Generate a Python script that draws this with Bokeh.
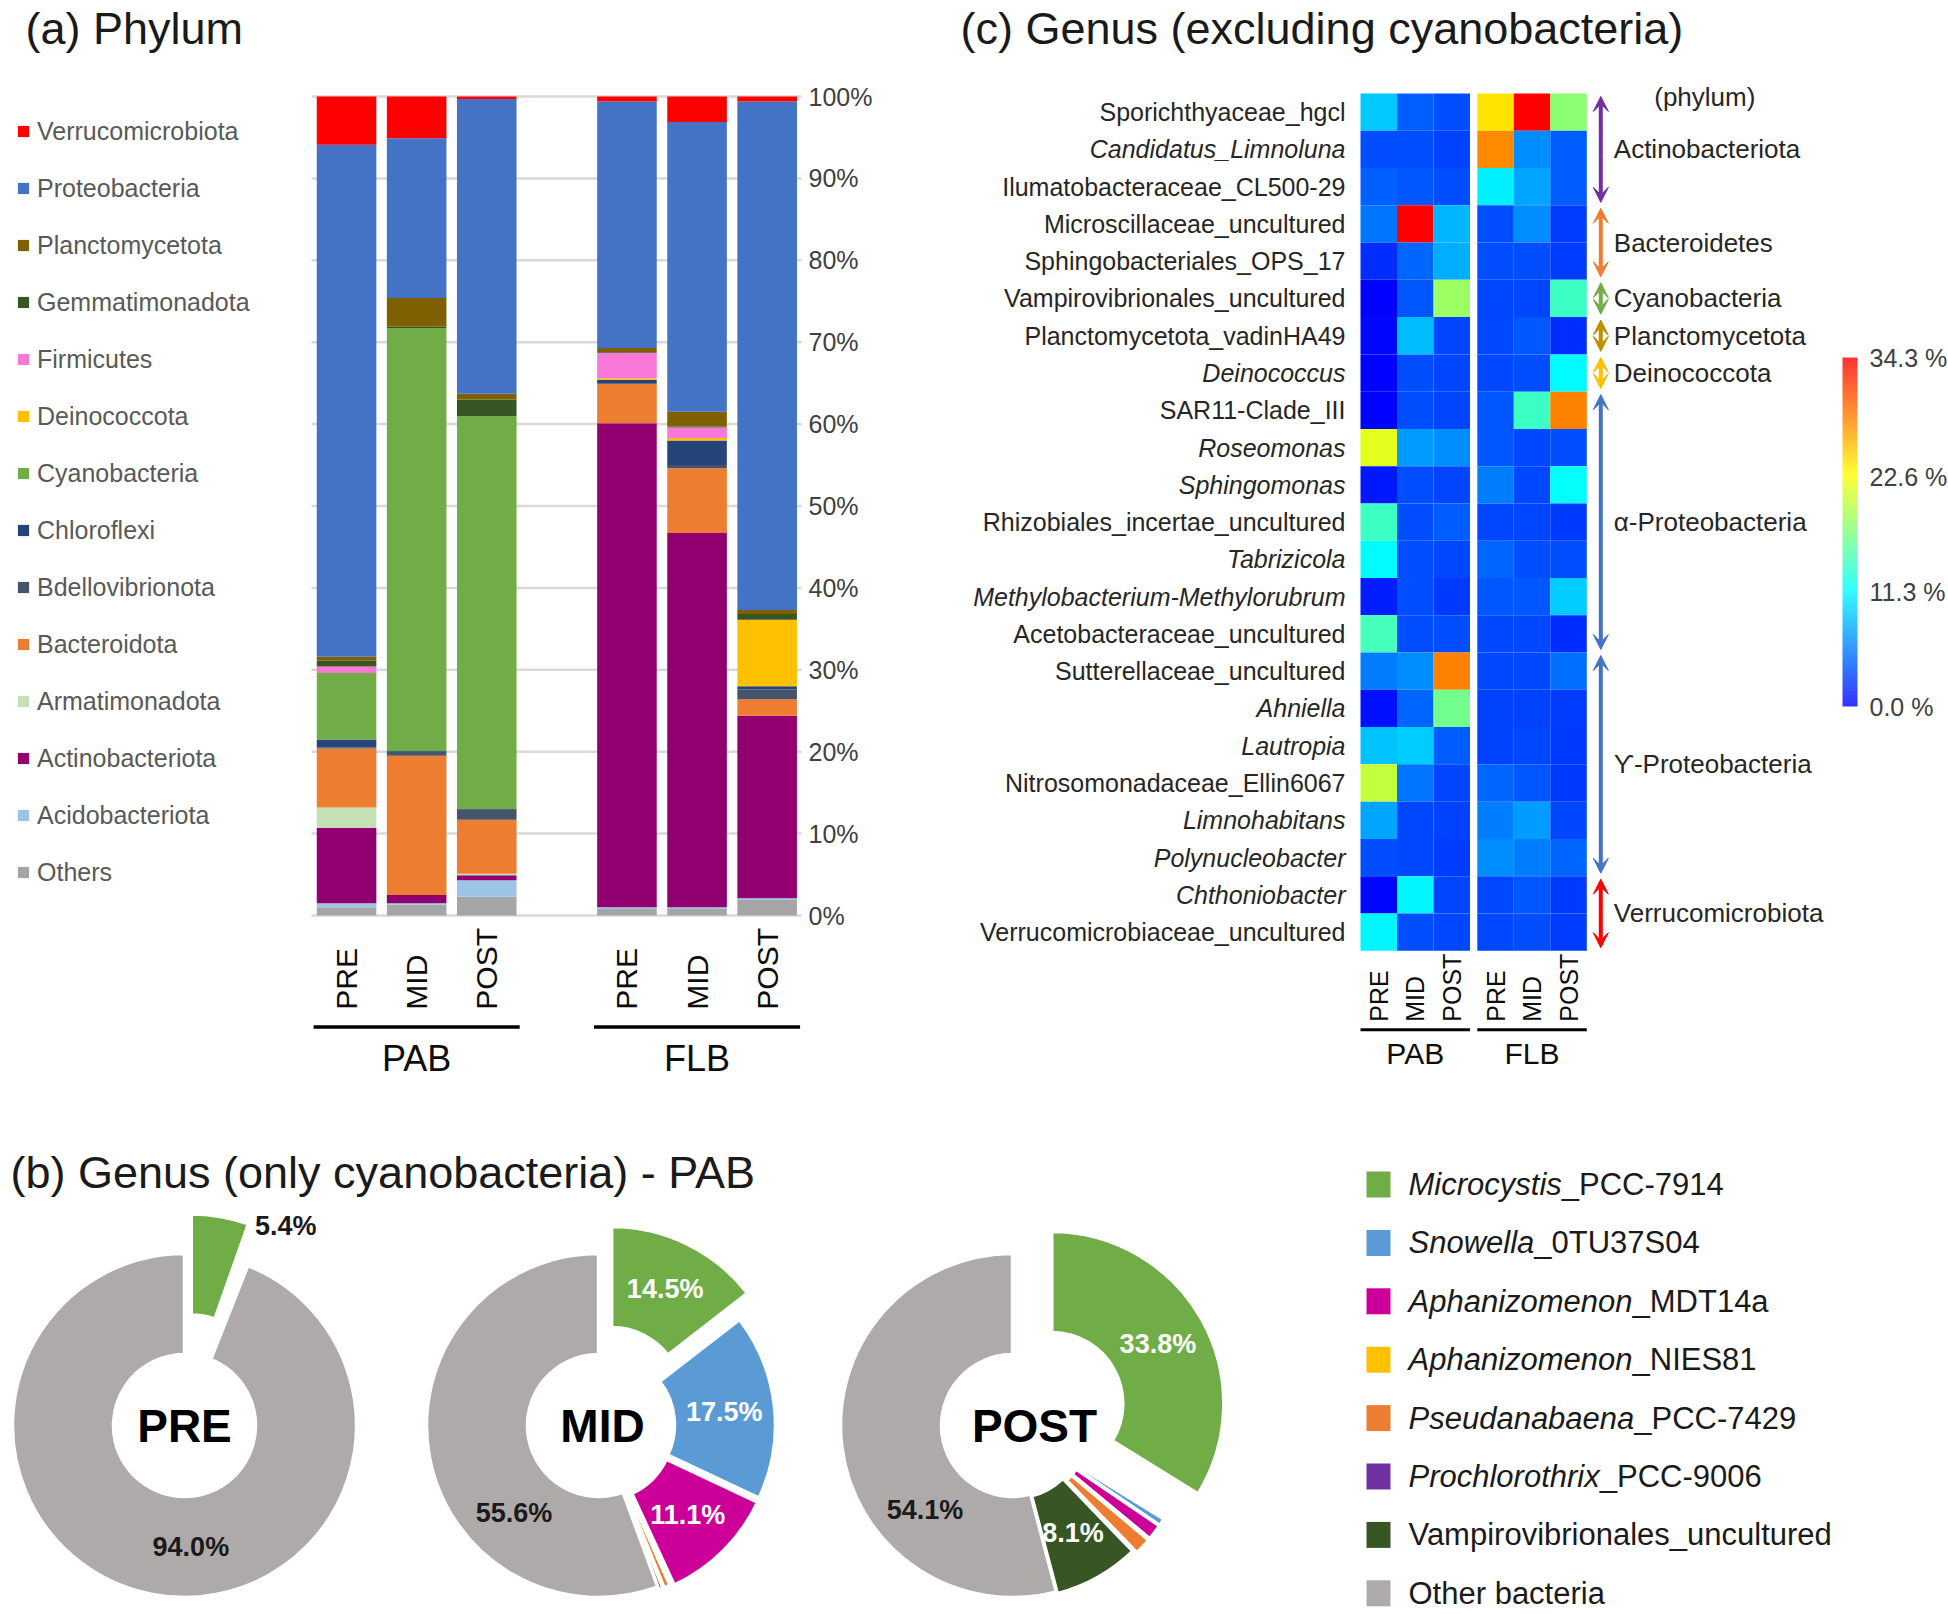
import numpy as np
from math import pi
from bokeh.plotting import figure
from bokeh.models import (ColumnDataSource, Range1d, FixedTicker, Legend, LegendItem,
                          LinearColorMapper, ColorBar, Arrow, VeeHead, Label)
from bokeh.layouts import row, column
from bokeh.core.properties import value
from bokeh.embed import file_html
from bokeh.resources import INLINE

FONT = "Liberation Sans"

# ------------------------------------------------------------------ data (a)
bar_samples = ["PRE", "MID", "POST"]
bar_groups = ["PAB", "FLB"]
# order of bars: PAB PRE, PAB MID, PAB POST, FLB PRE, FLB MID, FLB POST
others            = [1.0, 1.3, 2.3, 0.8, 0.8, 1.9]
acidobacteriota   = [0.5, 0.2, 2.0, 0.2, 0.2, 0.2]
actinobacteriota  = [9.2, 1.0, 0.6, 59.1, 45.7, 22.3]
armatimonadota    = [2.5, 0.0, 0.2, 0.0, 0.0, 0.0]
bacteroidota      = [7.2, 17.0, 6.6, 4.8, 7.9, 2.0]
bdellovibrionota  = [0.1, 0.5, 1.2, 0.1, 0.4, 1.2]
chloroflexi       = [1.0, 0.1, 0.1, 0.4, 3.0, 0.4]
cyanobacteria     = [8.1, 51.6, 48.0, 0.0, 0.0, 0.0]
deinococcota      = [0.0, 0.0, 0.0, 0.2, 0.3, 8.1]
firmicutes        = [0.8, 0.0, 0.0, 3.1, 1.3, 0.0]
gemmatimonadota   = [0.7, 0.2, 2.0, 0.1, 0.1, 0.7]
planctomycetota   = [0.5, 3.5, 0.7, 0.5, 1.8, 0.5]
proteobacteria    = [62.5, 19.5, 36.0, 30.1, 35.4, 62.1]
verrucomicrobiota = [5.9, 5.1, 0.3, 0.6, 3.1, 0.6]

phylum_names = ["Others", "Acidobacteriota", "Actinobacteriota", "Armatimonadota",
                "Bacteroidota", "Bdellovibrionota", "Chloroflexi", "Cyanobacteria",
                "Deinococcota", "Firmicutes", "Gemmatimonadota", "Planctomycetota",
                "Proteobacteria", "Verrucomicrobiota"]
phylum_values = [others, acidobacteriota, actinobacteriota, armatimonadota, bacteroidota,
                 bdellovibrionota, chloroflexi, cyanobacteria, deinococcota, firmicutes,
                 gemmatimonadota, planctomycetota, proteobacteria, verrucomicrobiota]
phylum_colors = ["#A5A5A5", "#9DC3E6", "#920070", "#C5E0B4", "#ED7D31", "#44546A",
                 "#264478", "#70AD47", "#FFC000", "#F878D8", "#375623", "#7F6000",
                 "#4472C4", "#FF0000"]
pct_ticks = [0, 10, 20, 30, 40, 50, 60, 70, 80, 90, 100]
pct_tick_labels = ["0%", "10%", "20%", "30%", "40%", "50%", "60%", "70%", "80%", "90%", "100%"]

# ------------------------------------------------------------------ data (b)
pie_samples = ["PRE", "MID", "POST"]
genus_italic = ["Microcystis", "Snowella", "Aphanizomenon", "Aphanizomenon",
                "Pseudanabaena", "Prochlorothrix", "", ""]
genus_rest = ["_PCC-7914", "_0TU37S04", "_MDT14a", "_NIES81", "_PCC-7429", "_PCC-9006",
              "Vampirovibrionales_uncultured", "Other bacteria"]
genus_colors = ["#70AD47", "#5B9BD5", "#CC0099", "#FFC000", "#ED7D31", "#7030A0",
                "#375623", "#AEAAAA"]
pie_pre  = [5.4, 0.2, 0.1, 0.0, 0.2, 0.0, 0.1, 94.0]
pie_mid  = [14.5, 17.5, 11.1, 0.2, 0.6, 0.1, 0.4, 55.6]
pie_post = [33.8, 0.7, 1.5, 0.1, 1.6, 0.1, 8.1, 54.1]

# ------------------------------------------------------------------ data (c)
hm_genera = ["Sporichthyaceae_hgcl", "Candidatus_Limnoluna", "Ilumatobacteraceae_CL500-29",
             "Microscillaceae_uncultured", "Sphingobacteriales_OPS_17",
             "Vampirovibrionales_uncultured", "Planctomycetota_vadinHA49", "Deinococcus",
             "SAR11-Clade_III", "Roseomonas", "Sphingomonas", "Rhizobiales_incertae_uncultured",
             "Tabrizicola", "Methylobacterium-Methylorubrum", "Acetobacteraceae_uncultured",
             "Sutterellaceae_uncultured", "Ahniella", "Lautropia", "Nitrosomonadaceae_Ellin6067",
             "Limnohabitans", "Polynucleobacter", "Chthoniobacter",
             "Verrucomicrobiaceae_uncultured"]
hm_italic = [False, True, False, False, False, False, False, True, False, True, True, False,
             True, True, False, False, True, True, False, True, True, True, False]
hm_pab_pre  = [9.0, 3.5, 4.4, 5.3, 2.1, 0.2, 0.4, 0.2, 0.2, 21.6, 1.1, 14.1, 11.3, 1.4, 14.6,
               5.7, 0.7, 8.8, 20.2, 7.4, 3.5, 0.4, 11.0]
hm_pab_mid  = [4.4, 3.5, 3.9, 34.3, 4.6, 3.9, 8.5, 3.5, 3.5, 7.1, 3.5, 3.5, 3.5, 3.5, 3.5,
               6.4, 4.6, 9.2, 5.3, 3.2, 3.3, 11.0, 3.5]
hm_pab_post = [3.5, 3.0, 3.5, 8.2, 7.8, 18.4, 3.2, 3.2, 3.2, 6.4, 3.2, 4.2, 3.3, 2.6, 3.5,
               28.5, 16.5, 4.2, 3.2, 3.0, 2.8, 3.2, 3.3]
hm_flb_pre  = [24.0, 28.1, 10.8, 3.5, 3.5, 3.2, 3.3, 3.3, 3.9, 3.9, 5.7, 3.2, 4.6, 3.9, 3.3,
               3.3, 3.0, 3.0, 4.6, 5.7, 6.4, 3.3, 3.3]
hm_flb_mid  = [34.3, 6.4, 7.4, 6.4, 3.5, 3.2, 3.9, 3.5, 14.1, 3.3, 3.3, 3.2, 3.5, 3.9, 3.3,
               3.3, 3.0, 3.3, 3.9, 7.1, 5.7, 3.9, 3.5]
hm_flb_post = [17.7, 4.2, 4.2, 2.8, 2.8, 14.1, 2.1, 11.3, 28.5, 3.5, 11.6, 2.6, 3.5, 9.2, 2.1,
               5.0, 2.8, 2.6, 2.6, 3.2, 4.6, 2.6, 2.8]
hm_phyla = ["Actinobacteriota", "Bacteroidetes", "Cyanobacteria", "Planctomycetota",
            "Deinococcota", "\u03b1-Proteobacteria", "\u03d2-Proteobacteria", "Verrucomicrobiota"]
hm_phyla_first = [0, 3, 5, 6, 7, 8, 15, 21]
hm_phyla_last  = [2, 4, 5, 6, 7, 14, 20, 22]
hm_phyla_colors = ["#7030A0", "#ED7D31", "#70AD47", "#BF8F00", "#FFC000", "#4472C4",
                   "#4472C4", "#FF0000"]
cb_ticks = [0.0, 11.3, 22.6, 34.3]
cb_tick_labels = ["0.0 %", "11.3 %", "22.6 %", "34.3 %"]

# ------------------------------------------------------------------ helpers
ARIAL = {c: w for c, w in zip("abcdefghijklmnopqrstuvwxyz",
         [556, 556, 500, 556, 556, 278, 556, 556, 222, 222, 500, 222, 833, 556, 556, 556, 556,
          333, 500, 278, 556, 500, 722, 500, 500, 500])}
ARIAL.update({c: w for c, w in zip("ABCDEFGHIJKLMNOPQRSTUVWXYZ",
              [667, 667, 722, 722, 667, 611, 778, 722, 278, 500, 667, 556, 833, 722, 778, 667,
               778, 722, 667, 611, 722, 667, 944, 667, 667, 611])})
ARIAL.update({" ": 278, "_": 556, "-": 333, ".": 278, "%": 889, "(": 333, ")": 333})


def text_width(s, size):
    return sum(ARIAL.get(ch, 556) for ch in s) / 1000.0 * size


def jet_palette(n=256):
    stops = [(0.0, (0, 0, 255)), (1 / 3, (0, 255, 255)), (2 / 3, (255, 255, 0)), (1.0, (255, 0, 0))]
    out = []
    for t in np.linspace(0, 1, n):
        for (t0, c0), (t1, c1) in zip(stops[:-1], stops[1:]):
            if t <= t1 + 1e-9:
                f = (t - t0) / (t1 - t0)
                rgb = [int(round(a + (b - a) * f)) for a, b in zip(c0, c1)]
                out.append("#%02x%02x%02x" % tuple(rgb))
                break
    return out


def base_fig(w, h, xr, yr, **kw):
    p = figure(width=w, height=h, output_backend="svg", toolbar_location=None,
               x_range=Range1d(*xr), y_range=Range1d(*yr), **kw)
    p.grid.visible = False
    p.outline_line_color = None
    p.background_fill_color = "white"
    p.border_fill_color = "white"
    return p


PAGE_W, PAGE_H = 1948, 1614
SPLIT = 1110          # page y where the top row of panels ends
TITLE_FS = "45px"
TITLE_Y = 28          # title label position below the top edge of the page

# ================================================================== (a) bars
A_W, A_H, A_RIGHT = 944, SPLIT, 143
A_PXU_X = 70.1          # px per bar slot
A_PXU_Y = 8.19          # px per percent
A_FRAME_W = A_W - A_RIGHT
a_bar_left_px = 311     # frame px where first slot starts
a_zero_px = 915         # frame px (from top) of 0 %
a_x0 = -0.5 - a_bar_left_px / A_PXU_X
a_y1 = 100 + (a_zero_px - 100 * A_PXU_Y) / A_PXU_Y
a_y0 = a_y1 - A_H / A_PXU_Y
GROUP_STEP = 4
bar_x = [g * GROUP_STEP + s for g in range(len(bar_groups)) for s in range(len(bar_samples))]

pa = base_fig(A_W, A_H, (a_x0, a_x0 + A_FRAME_W / A_PXU_X), (a_y0, a_y1),
              x_axis_location=None, y_axis_location="right",
              min_border_left=0, min_border_top=0, min_border_bottom=0,
              min_border_right=A_RIGHT)

gx0, gx1 = min(bar_x) - 0.5, max(bar_x) + 0.5
pa.segment(x0=[gx0] * len(pct_ticks), x1=[gx1] * len(pct_ticks), y0=pct_ticks, y1=pct_ticks,
           line_color="#D9D9D9", line_width=2.5)

src_a = ColumnDataSource(dict(x=bar_x, **{n: v for n, v in zip(phylum_names, phylum_values)}))
rends = pa.vbar_stack(phylum_names, x="x", width=0.85, fill_color=phylum_colors,
                      line_color=None, source=src_a)

legend_a = Legend(items=[LegendItem(label=n, renderers=[r])
                         for n, r in reversed(list(zip(phylum_names, rends)))],
                  location=(16, A_H - 887), orientation="vertical",
                  glyph_width=14, glyph_height=14, label_standoff=7, label_height=30,
                  spacing=27, padding=0, margin=0, border_line_color=None,
                  background_fill_alpha=0, label_text_font=FONT,
                  label_text_font_size="25px", label_text_color="#595959")
pa.add_layout(legend_a)

ya = pa.yaxis[0]
ya.ticker = FixedTicker(ticks=pct_ticks)
ya.major_label_overrides = {t: l for t, l in zip(pct_ticks, pct_tick_labels)}
ya.axis_line_color = None
ya.major_tick_line_color = None
ya.minor_tick_line_color = None
ya.major_tick_out = 0
ya.minor_tick_out = 0
ya.major_label_standoff = 7
ya.major_label_text_font = FONT
ya.major_label_text_font_size = "25px"
ya.major_label_text_color = "#404040"

pa.text(x=bar_x, y=[-11.5] * len(bar_x), text=bar_samples * len(bar_groups), angle=pi / 2,
        text_align="left", text_baseline="middle", text_font=value(FONT),
        text_font_size="30px", text_color="#0d0d0d")
grp_c = [float(np.mean(bar_x[g * 3:(g + 1) * 3])) for g in range(len(bar_groups))]
pa.segment(x0=[c - 1.47 for c in grp_c], x1=[c + 1.47 for c in grp_c], y0=[-13.6] * 2,
           y1=[-13.6] * 2, line_color="black", line_width=3.5)
pa.text(x=grp_c, y=[-17.5] * 2, text=bar_groups, text_align="center", text_baseline="middle",
        text_font=value(FONT), text_font_size="36px", text_color="#0d0d0d")
pa.add_layout(Label(x=25, y=A_H - TITLE_Y, x_units="screen", y_units="screen",
                    text="(a) Phylum", text_font=FONT, text_font_size=TITLE_FS,
                    text_color="#1a1a1a", text_baseline="alphabetic"))

# ================================================================== (c) heatmap
C_W, C_H = PAGE_W - A_W, SPLIT
C_PXU_X, C_PXU_Y = 36.5, 37.27
c_left_px = 416       # frame px of heatmap left edge
c_top_px = 93         # frame px of heatmap top edge
n_rows = len(hm_genera)
c_x0 = -0.5 - c_left_px / C_PXU_X
c_y1 = (n_rows - 0.5) + c_top_px / C_PXU_Y
c_y0 = c_y1 - C_H / C_PXU_Y
pc = base_fig(C_W, C_H, (c_x0, c_x0 + C_W / C_PXU_X), (c_y0, c_y1),
              x_axis_location=None, y_axis_location=None, min_border=0)

HM_GAP = 0.2
hm_cols = [hm_pab_pre, hm_pab_mid, hm_pab_post, hm_flb_pre, hm_flb_mid, hm_flb_post]
col_x = [g * (3 + HM_GAP) + s for g in range(2) for s in range(3)]
row_y = [n_rows - 1 - i for i in range(n_rows)]
hx, hy, hv = [], [], []
for cx_, col in zip(col_x, hm_cols):
    for ry, v in zip(row_y, col):
        hx.append(cx_)
        hy.append(ry)
        hv.append(v)
mapper = LinearColorMapper(palette=jet_palette(256), low=cb_ticks[0], high=cb_ticks[-1])
pc.rect(x="x", y="y", width=1.0, height=1.0, fill_color={"field": "v", "transform": mapper},
        line_color=None, source=ColumnDataSource(dict(x=hx, y=hy, v=hv)))

pc.text(x="x", y="y", text="t", text_font_style="fs", x_offset=-15, text_align="right",
        text_baseline="middle", text_font=value(FONT), text_font_size="25px",
        text_color="#262626",
        source=ColumnDataSource(dict(x=[-0.5] * n_rows, y=row_y, t=hm_genera,
                                     fs=["italic" if it else "normal" for it in hm_italic])))

lab_y_bottom = -0.5 - 71 / C_PXU_Y
pc.text(x=col_x, y=[lab_y_bottom] * 6, text=bar_samples * 2, angle=pi / 2, text_align="left",
        text_baseline="middle", text_font=value(FONT), text_font_size="25px",
        text_color="#0d0d0d")
gl_y = -0.5 - 79 / C_PXU_Y
hm_gc = [float(np.mean(col_x[g * 3:(g + 1) * 3])) for g in range(2)]
pc.segment(x0=[c - 1.5 for c in hm_gc], x1=[c + 1.5 for c in hm_gc], y0=[gl_y] * 2,
           y1=[gl_y] * 2, line_color="black", line_width=3)
pc.text(x=hm_gc, y=[-0.5 - 103 / C_PXU_Y] * 2, text=bar_groups, text_align="center",
        text_baseline="middle", text_font=value(FONT), text_font_size="30px",
        text_color="#0d0d0d")

arrow_x = max(col_x) + 0.5 + 14 / C_PXU_X
for name, f, l, c in zip(hm_phyla, hm_phyla_first, hm_phyla_last, hm_phyla_colors):
    y_top = row_y[f] + 0.42
    y_bot = row_y[l] - 0.42
    pc.add_layout(Arrow(start=VeeHead(size=15, fill_color=c, line_color=c),
                        end=VeeHead(size=15, fill_color=c, line_color=c),
                        x_start=arrow_x, y_start=y_bot, x_end=arrow_x, y_end=y_top,
                        line_color=c, line_width=4))
pc.text(x=[arrow_x] * len(hm_phyla),
        y=[(row_y[f] + row_y[l]) / 2 for f, l in zip(hm_phyla_first, hm_phyla_last)],
        text=hm_phyla, x_offset=13, text_align="left", text_baseline="middle",
        text_font=value(FONT), text_font_size="26px", text_color="#262626")
pc.add_layout(Label(x=arrow_x, y=row_y[0] + 0.4, x_offset=104, text="(phylum)",
                    text_align="center", text_baseline="middle", text_font=FONT,
                    text_font_size="26px", text_color="#262626"))

cbar = ColorBar(color_mapper=mapper, ticker=FixedTicker(ticks=cb_ticks),
                major_label_overrides={t: l for t, l in zip(cb_ticks, cb_tick_labels)},
                location=(898, C_H - 706), width=15, height=349, padding=0, margin=0,
                label_standoff=12, major_tick_line_color=None, minor_tick_line_color=None,
                bar_line_color=None, border_line_color=None, background_fill_color=None,
                scale_alpha=0.8,
                major_label_text_font=FONT, major_label_text_font_size="25px",
                major_label_text_color="#404040")
pc.add_layout(cbar)
pc.add_layout(Label(x=16, y=C_H - TITLE_Y, x_units="screen", y_units="screen",
                    text="(c) Genus (excluding cyanobacteria)", text_font=FONT,
                    text_font_size=TITLE_FS, text_color="#1a1a1a", text_baseline="alphabetic"))

# ================================================================== (b) donuts
B_W, B_H = PAGE_W, PAGE_H - SPLIT
PXU = 414.0                       # px per donut slot
b_center_px = (184, 1425 - SPLIT) # frame px (from left, from top) of first donut centre
R_OUT, R_IN = 172 / PXU, 71 / PXU
R_MID = (R_OUT + R_IN) / 2
b_x0 = -b_center_px[0] / PXU
b_y1 = b_center_px[1] / PXU
pb = base_fig(B_W, B_H, (b_x0, b_x0 + B_W / PXU), (b_y1 - B_H / PXU, b_y1),
              x_axis_location=None, y_axis_location=None, min_border=0)

pie_sets = [pie_pre, pie_mid, pie_post]
pie_explode_px = [[40, 0, 0, 0, 0, 0, 0, 0],
                  [30, 5, 5, 3, 3, 3, 3, 0],
                  [45, 6, 6, 6, 6, 6, 2, 0]]
other_label_deg = [177, 224, 226]
center_label_dx = [0, 4, 22]

lx, ly, lt, lc, la = [], [], [], [], []
for k, vals in enumerate(pie_sets):
    v = np.array(vals, float) / 100.0
    cum = np.concatenate([[0.0], np.cumsum(v)])
    st = pi / 2 - 2 * pi * cum[:-1]
    en = pi / 2 - 2 * pi * cum[1:]
    md = (st + en) / 2
    d = np.array(pie_explode_px[k]) / PXU
    xs = k + d * np.cos(md)
    ys = d * np.sin(md)
    keep = v > 0
    pb.annular_wedge(x="x", y="y", inner_radius=R_IN, outer_radius=R_OUT, start_angle="s",
                     end_angle="e", direction="clock", fill_color="c", line_color="white",
                     line_width=3.5,
                     source=ColumnDataSource(dict(x=xs[keep], y=ys[keep], s=st[keep],
                                                  e=en[keep],
                                                  c=list(np.array(genus_colors)[keep]))))
    n = len(vals)
    for j in range(n):
        pct = vals[j]
        if j == n - 1:
            ang = pi / 2 - np.radians(other_label_deg[k])
            rr, col, al = R_MID, "#1a1a1a", "center"
        elif pct >= 8:
            ang, rr, col, al = md[j], R_MID + d[j], "white", "center"
        elif pct >= 5:
            ang, rr, col, al = en[j], R_OUT + d[j], "#1a1a1a", "left"
        else:
            continue
        lx.append(float(k + rr * np.cos(ang)))
        ly.append(float(rr * np.sin(ang)))
        lt.append("%.1f%%" % pct)
        lc.append(col)
        la.append(al)
pb.text(x="x", y="y", text="t", text_color="c", text_align="a", text_baseline="middle",
        text_font=value(FONT), text_font_size="27px", text_font_style="bold",
        source=ColumnDataSource(dict(x=lx, y=ly, t=lt, c=lc, a=la)))
pb.text(x=[k + dx / PXU for k, dx in enumerate(center_label_dx)], y=[0] * 3, text=pie_samples,
        text_align="center", text_baseline="middle", text_font=value(FONT),
        text_font_size="46px", text_font_style="bold", text_color="black")

# legend for donuts (mixed italic / roman labels)
LEG_FS = 31
leg_top_px, leg_step_px = 241, 58.4         # first row: px above donut-centre level
leg_sq_px, leg_tx_px = 1194, 1224           # px right of first donut centre
leg_y = [(leg_top_px - i * leg_step_px) / PXU for i in range(len(genus_rest))]
leg_sq_x = leg_sq_px / PXU
leg_tx_x = leg_tx_px / PXU
pb.rect(x=[leg_sq_x] * len(leg_y), y=leg_y, width=24, height=26, width_units="screen",
        height_units="screen", fill_color=genus_colors, line_color=None)
pb.text(x=[leg_tx_x] * 6, y=leg_y[:6], text=genus_italic[:6], text_font_style="italic",
        text_align="left", text_baseline="middle", text_font=value(FONT),
        text_font_size="%dpx" % LEG_FS, text_color="#1a1a1a")
pb.text(x="x", y="y", text="t", x_offset="xo", text_align="left", text_baseline="middle",
        text_font=value(FONT), text_font_size="%dpx" % LEG_FS, text_color="#1a1a1a",
        source=ColumnDataSource(dict(x=[leg_tx_x] * len(leg_y), y=leg_y, t=genus_rest,
                                     xo=[text_width(s, LEG_FS) for s in genus_italic])))
pb.add_layout(Label(x=10, y=B_H - (1172 - SPLIT), x_units="screen", y_units="screen",
                    text="(b) Genus (only cyanobacteria) - PAB", text_font=FONT,
                    text_font_size=TITLE_FS, text_color="#1a1a1a", text_baseline="alphabetic"))

layout = column(row(pa, pc), pb)
open("out.html", "w").write(file_html(layout, INLINE))
